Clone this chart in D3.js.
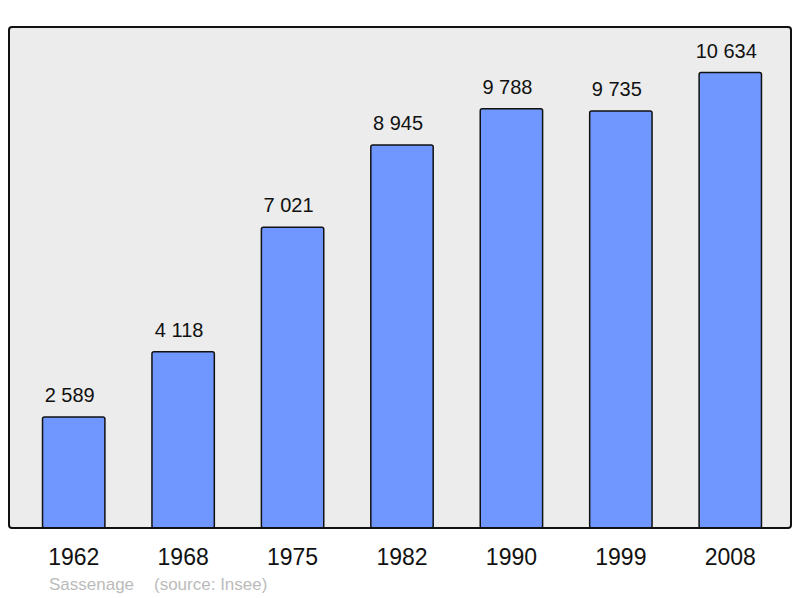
<!DOCTYPE html>
<html lang="fr">
<head>
<meta charset="UTF-8" />
<title>Sassenage</title>
<style>
  body { margin: 0; background: #fff; }
  text { font-family: "Liberation Sans", Arial, sans-serif; }
</style>
</head>
<body>
<div id="chart"></div>
<script src="https://d3js.org/d3.v7.min.js"></script>
<script>
  const years = ['1962', '1968', '1975', '1982', '1990', '1999', '2008'];
  const population = [2589, 4118, 7021, 8945, 9788, 9735, 10634];
  const footer = ['Sassenage', '(source: Insee)'];

  const W = 800, H = 598;
  const frame = { left: 9, top: 27, right: 791, bottom: 528 };

  const svg = d3.select('#chart').append('svg')
    .attr('width', W).attr('height', H);

  svg.append('rect')
    .attr('x', frame.left).attr('y', frame.top)
    .attr('width', frame.right - frame.left).attr('height', frame.bottom - frame.top)
    .attr('rx', 3).attr('fill', '#ececec').attr('stroke', 'none');

  const x = d3.scaleBand().domain(years).range([19, 785])
    .paddingInner(0.43).paddingOuter(0.215);
  const y = d3.scaleLinear().domain([0, d3.max(population) * 1.1])
    .range([frame.bottom, frame.top]);

  const fmt = v => d3.format(',')(v).replace(/,/g, ' ');
  const data = years.map((yr, i) => ({ yr, v: population[i] }));

  svg.selectAll('rect.bar').data(data).enter().append('rect')
    .attr('class', 'bar')
    .attr('x', d => x(d.yr)).attr('y', d => y(d.v))
    .attr('width', x.bandwidth()).attr('height', d => y(0) - y(d.v))
    .attr('rx', 2)
    .attr('fill', '#7096ff').attr('stroke', '#111').attr('stroke-width', 1.5);

  svg.selectAll('text.val').data(data).enter().append('text')
    .attr('class', 'val')
    .attr('x', d => x(d.yr) + x.bandwidth() / 2 - 4)
    .attr('y', d => y(d.v) - 15)
    .attr('text-anchor', 'middle').attr('font-size', 20).attr('fill', '#111')
    .text(d => fmt(d.v));

  // frame border drawn on top of bars
  svg.append('rect')
    .attr('x', frame.left).attr('y', frame.top)
    .attr('width', frame.right - frame.left).attr('height', frame.bottom - frame.top)
    .attr('rx', 3).attr('fill', 'none').attr('stroke', '#111').attr('stroke-width', 2);

  svg.append('g')
    .attr('transform', `translate(0,${frame.bottom})`)
    .call(d3.axisBottom(x).tickSize(0).tickPadding(0))
    .call(g => g.select('.domain').remove())
    .selectAll('text')
    .attr('dy', null).attr('y', 37)
    .attr('font-size', 23).attr('fill', '#111')
    .style('font-family', '"Liberation Sans", Arial, sans-serif');

  svg.append('text').attr('x', 49).attr('y', 590)
    .attr('font-size', 17).attr('fill', '#bbb').text(footer[0]);
  svg.append('text').attr('x', 154).attr('y', 590)
    .attr('font-size', 17).attr('fill', '#bbb').text(footer[1]);
</script>
</body>
</html>
